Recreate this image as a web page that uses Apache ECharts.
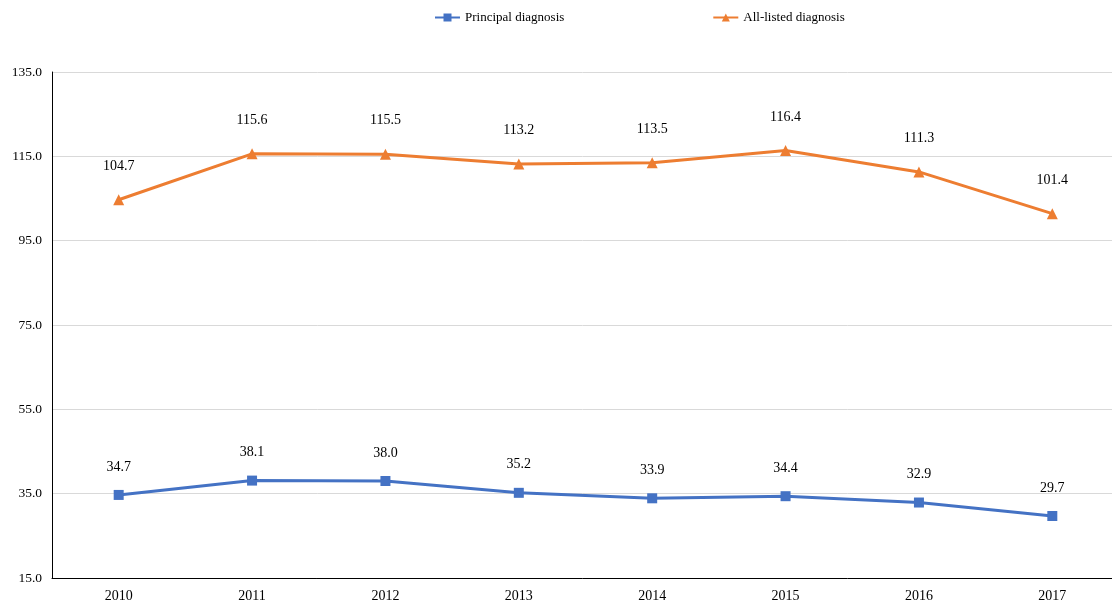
<!DOCTYPE html>
<html>
<head>
<meta charset="utf-8">
<script src="https://cdn.jsdelivr.net/npm/echarts@6/dist/echarts.min.js"></script>
<style>
  html, body { margin: 0; padding: 0; background: #fff; }
  #chart { width: 1112px; height: 603px; }
</style>
</head>
<body>
<div id="chart"></div>
<script>
var years = ['2010', '2011', '2012', '2013', '2014', '2015', '2016', '2017'];
var principal = [34.7, 38.1, 38.0, 35.2, 33.9, 34.4, 32.9, 29.7];
var allListed = [104.7, 115.6, 115.5, 113.2, 113.5, 116.4, 111.3, 101.4];

var serif = '"Liberation Serif", "DejaVu Serif", serif';
var myChart = echarts.init(document.getElementById('chart'));

function labelOpt(dist) {
    return {
        show: true,
        position: 'top',
        distance: dist,
        color: '#000',
        fontFamily: serif,
        fontSize: 14,
        formatter: function (p) { return p.value.toFixed(1); }
    };
}

var option = {
    animation: false,
    textStyle: { fontFamily: serif },
    legend: {
        left: 429,
        top: 6,
        itemGap: 148,
        itemWidth: 25,
        itemHeight: 10,
        textStyle: { fontFamily: serif, fontSize: 13, color: '#000' },
        data: ['Principal diagnosis', 'All-listed diagnosis']
    },
    grid: { left: 52, top: 72, width: 1067, height: 506, outerBoundsMode: 'none' },
    xAxis: {
        type: 'category',
        data: years,
        boundaryGap: true,
        axisLine: { lineStyle: { color: '#000', width: 1 } },
        axisTick: { show: false },
        axisLabel: { color: '#000', fontFamily: serif, fontSize: 14, margin: 11 }
    },
    yAxis: {
        type: 'value',
        min: 15,
        max: 135,
        interval: 20,
        axisLine: { show: true, lineStyle: { color: '#000', width: 1 } },
        axisTick: { show: false },
        axisLabel: {
            color: '#000', fontFamily: serif, fontSize: 13.5, margin: 10,
            formatter: function (v) { return v.toFixed(1); }
        },
        splitLine: { lineStyle: { color: '#d9d9d9', width: 1 } }
    },
    series: [
        {
            name: 'Principal diagnosis',
            type: 'line',
            data: principal,
            symbol: 'rect',
            symbolSize: 10,
            lineStyle: { color: '#4472C4', width: 3 },
            itemStyle: { color: '#4472C4' },
            label: labelOpt(16)
        },
        {
            name: 'All-listed diagnosis',
            type: 'line',
            data: allListed,
            symbol: 'triangle',
            symbolSize: 11,
            lineStyle: { color: '#ED7D31', width: 3 },
            itemStyle: { color: '#ED7D31' },
            label: labelOpt(21)
        }
    ]
};
myChart.setOption(option, true);
</script>
</body>
</html>
